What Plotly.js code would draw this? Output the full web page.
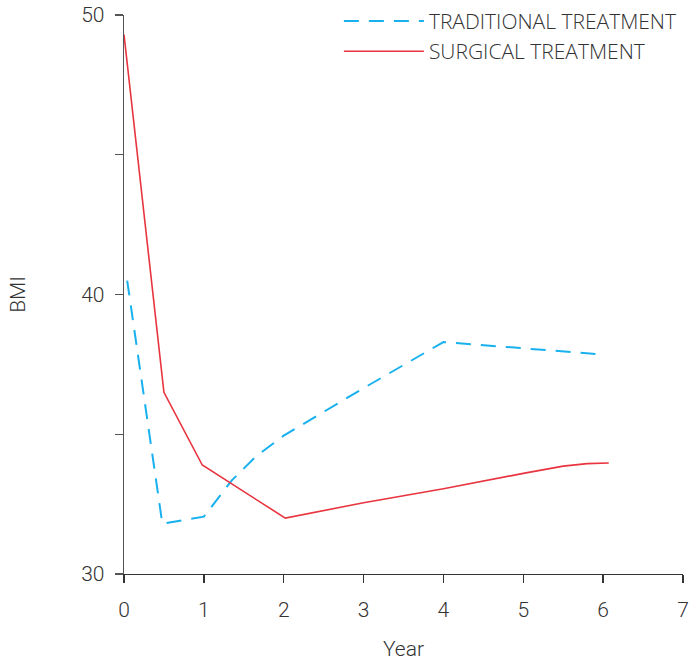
<!DOCTYPE html>
<html>
<head>
<meta charset="utf-8">
<script src="https://cdn.plot.ly/plotly-3.0.1.min.js"></script>
<style>html,body{margin:0;padding:0;background:#fff;}#chart{width:690px;height:661px;}</style>
</head>
<body>
<div id="chart"></div>
<script>
var tradYears = [0.04, 0.48, 1.0, 1.35, 1.65, 2.0, 3.0, 4.0, 6.0];
var tradBMI   = [40.5, 31.8, 32.05, 33.35, 34.2, 34.95, 36.65, 38.3, 37.85];
var surgYears = [0.0, 0.5, 0.98, 2.02, 3.0, 4.0, 5.0, 5.5, 5.8, 6.07];
var surgBMI   = [49.3, 36.5, 33.9, 32.0, 32.55, 33.05, 33.6, 33.86, 33.95, 33.97];
var yTickVals = [30, 35, 40, 45, 50];
var yTickText = ['30', '', '40', '', '50'];
var xTickVals = [0, 1, 2, 3, 4, 5, 6, 7];

var FONT = 'Roboto, sans-serif';
var LFONT = 'Open Sans, Roboto, sans-serif';
var TXT = '#333333';

var traces = [
  {x: tradYears, y: tradBMI, type: 'scatter', mode: 'lines', name: 'TRADITIONAL TREATMENT',
   line: {color: '#18b1ee', width: 2, dash: '15px,10px'}},
  {x: surgYears, y: surgBMI, type: 'scatter', mode: 'lines', name: 'SURGICAL TREATMENT',
   line: {color: '#e8343f', width: 1.6}}
];

var layout = {
  width: 690, height: 661,
  margin: {l: 124, r: 7, t: 15, b: 87, autoexpand: false},
  paper_bgcolor: '#ffffff', plot_bgcolor: '#ffffff',
  font: {family: FONT, color: TXT, size: 20, weight: 300},
  showlegend: true,
  legend: {x: 0.3844, xanchor: 'left', y: 1.0254, yanchor: 'top', bgcolor: 'rgba(0,0,0,0)',
           font: {family: LFONT, size: 21, color: TXT, weight: 300}, itemwidth: 80, tracegroupgap: 0},
  xaxis: {range: [0, 7], tickvals: xTickVals, showgrid: false, zeroline: false,
          showline: true, linecolor: '#333333', linewidth: 1.3,
          ticks: 'outside', ticklen: 8, tickcolor: '#333333', tickwidth: 1.3,
          tickfont: {family: FONT, size: 21, color: TXT, weight: 300}, ticklabelstandoff: 8,
          title: {text: 'Year', font: {family: FONT, size: 21, color: TXT, weight: 300}, standoff: 28}},
  yaxis: {range: [30, 50], tickvals: yTickVals, ticktext: yTickText, showgrid: false, zeroline: false,
          showline: true, linecolor: '#555555', linewidth: 1.3,
          ticks: 'outside', ticklen: 8, tickcolor: '#555555', tickwidth: 1.3,
          tickfont: {family: FONT, size: 21, color: TXT, weight: 300}, ticklabelstandoff: 6,
          title: {text: 'BMI', font: {family: FONT, size: 21, color: TXT, weight: 300}, standoff: 50}}
};

Plotly.newPlot('chart', traces, layout, {displayModeBar: false, staticPlot: true});
</script>
</body>
</html>
